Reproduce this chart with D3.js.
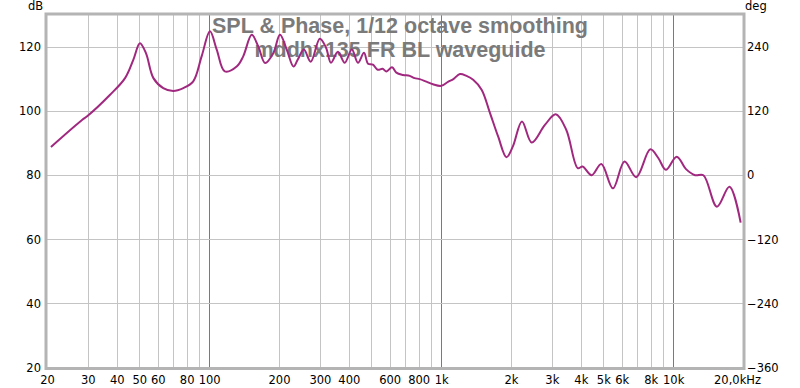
<!DOCTYPE html>
<html>
<head>
<meta charset="utf-8">
<script src="https://cdn.jsdelivr.net/npm/d3@7"></script>
<style>
  body { margin: 0; background: #fff; }
  svg { display: block; }
</style>
</head>
<body>
<svg id="main-chart"></svg>
<script>
// measured response, Hz / dB
const freqs = [20.8, 28.4, 29.7, 37.4, 43.4, 47.1, 50.3, 53.4, 57.5, 63.4, 70, 77.4, 85.4, 92.8,
  100.8, 107.8, 116.8, 131.4, 140.2, 152.6, 162.8, 174.2, 189, 202,
  216, 231, 241, 256, 274, 300, 319, 335, 359, 384, 412, 438, 465, 484,
  508, 533, 559, 581, 614, 641, 685, 732, 769, 808, 864, 922, 1000,
  1074, 1129, 1205, 1286, 1374, 1494, 1624, 1760, 1912, 2038, 2230, 2457,
  2800, 3120, 3460, 3880, 4070, 4450, 4900, 5500, 6170, 6930, 7970, 8640,
  9300, 10360, 11360, 12440, 13500, 15440, 17480, 19540];
const spl = [88.8, 97.3, 98.3, 105.1, 110.3, 116, 121.2, 118.1, 110.3, 107.2, 106.3, 107.2, 109.3, 117.1,
  124.9, 119.2, 112.4, 113.9, 117.1, 123.8, 120.2, 115, 118.1, 123.8,
  119.2, 113.9, 116.1, 119.2, 115.4, 122.6, 119.8, 115.1, 118.5, 115.1, 119.2, 115.1, 118.2, 114.8,
  114.5, 112.9, 113.2, 112.4, 113.7, 112, 111.3, 111, 110.3, 110, 109.2, 108.4, 107.9,
  109.2, 110, 111.6, 111, 109.8, 106.7, 99.4, 92.1, 85.6, 89, 96.8, 90.2,
  95.7, 99, 94.2, 82.2, 82.7, 80, 83.5, 75.9, 84.3, 79.4, 88.1, 85.3,
  81.7, 85.8, 81.9, 80, 80, 70.2, 76.4, 65.2];

const xTicks = [20, 30, 40, 50, 60, 80, 100, 200, 300, 400, 600, 800, 1000,
  2000, 3000, 4000, 5000, 6000, 8000, 10000, 20000];
const xTickLabels = ["20", "30", "40", "50", "60", "80", "100", "200", "300", "400", "600", "800", "1k",
  "2k", "3k", "4k", "5k", "6k", "8k", "10k", "20,0kHz"];
const gridFreqs = [30, 40, 50, 60, 70, 80, 90, 100, 200, 300, 400, 500, 600, 700, 800, 900, 1000,
  2000, 3000, 4000, 5000, 6000, 7000, 8000, 9000, 10000];
const majorFreqs = [100, 1000, 10000];
const dbTicks = [20, 40, 60, 80, 100, 120];
const degTicks = [-360, -240, -120, 0, 120, 240];

function plotchart() {
  const width = 800, height = 388;
  const left = 47, right = 743, plotTop = 15, plotBottom = 367.5;

  const svg = d3.select("#main-chart")
      .attr("width", width)
      .attr("height", height)
      .attr("font-family", "DejaVu Sans, sans-serif");

  const x = d3.scaleLog().domain([20, 20000]).range([left, right]);
  const y = d3.scaleLinear().domain([20, 130]).range([plotBottom, plotTop]);
  const yDeg = d3.scaleLinear().domain([-360, 300]).range([plotBottom, plotTop]);

  // grid
  svg.append("g")
    .selectAll("line")
    .data(gridFreqs)
    .join("line")
      .attr("x1", d => Math.round(x(d)) + 0.5)
      .attr("x2", d => Math.round(x(d)) + 0.5)
      .attr("y1", plotTop)
      .attr("y2", plotBottom)
      .attr("stroke", d => majorFreqs.includes(d) ? "#7a7a7a" : "#c4c4c4");

  svg.append("g")
    .selectAll("line")
    .data(dbTicks.filter(d => d > 20))
    .join("line")
      .attr("x1", left)
      .attr("x2", right)
      .attr("y1", d => Math.round(y(d)) + 0.5)
      .attr("y2", d => Math.round(y(d)) + 0.5)
      .attr("stroke", "#c4c4c4");

  // frame
  svg.append("rect")
      .attr("x", left - 1)
      .attr("y", plotTop - 1)
      .attr("width", right - left + 2)
      .attr("height", plotBottom - plotTop + 2)
      .attr("fill", "none")
      .attr("stroke", "#b4b4b4")
      .attr("stroke-width", 3);

  // title
  const title = svg.append("g")
      .attr("font-family", "Liberation Sans, Arial, sans-serif")
      .attr("font-weight", "bold")
      .attr("font-size", 21.5)
      .attr("fill", "#7a7a7a")
      .attr("text-anchor", "middle");
  title.append("text").attr("x", 400).attr("y", 33).text("SPL & Phase, 1/12 octave smoothing");
  title.append("text").attr("x", 400).attr("y", 57).text("mddhx135 FR BL waveguide");

  // curve
  const line = d3.line()
      .x((d, i) => x(freqs[i]))
      .y(d => y(d))
      .curve(d3.curveCatmullRom.alpha(0.5));

  svg.append("path")
      .datum(spl)
      .attr("fill", "none")
      .attr("stroke", "#a0287f")
      .attr("stroke-width", 2)
      .attr("stroke-linejoin", "round")
      .attr("d", line);

  // axes
  const gx = svg.append("g")
      .attr("transform", `translate(0,${plotBottom})`)
      .call(d3.axisBottom(x)
        .tickValues(xTicks)
        .tickFormat((d, i) => xTickLabels[i])
        .tickSize(0)
        .tickPadding(0));
  gx.select(".domain").remove();
  gx.selectAll("text")
      .attr("y", 13)
      .attr("dy", "0.32em")
      .attr("font-size", 11.5)
      .attr("fill", "#000")
      .attr("font-family", "DejaVu Sans, sans-serif");
  gx.selectAll("text").filter(d => d === 20000).attr("dx", -6);

  const gl = svg.append("g")
      .attr("transform", `translate(${left},0)`)
      .call(d3.axisLeft(y).tickValues(dbTicks).tickSize(0).tickPadding(6));
  gl.select(".domain").remove();
  gl.selectAll("text")
      .attr("font-size", 11.5)
      .attr("fill", "#000")
      .attr("font-family", "DejaVu Sans, sans-serif");

  const gr = svg.append("g")
      .attr("transform", `translate(${right},0)`)
      .call(d3.axisRight(yDeg).tickValues(degTicks).tickSize(0).tickPadding(4));
  gr.select(".domain").remove();
  gr.selectAll("text")
      .attr("font-size", 11.5)
      .attr("fill", "#000")
      .attr("font-family", "DejaVu Sans, sans-serif");

  svg.append("text").attr("x", 28).attr("y", 10).attr("font-size", 11.5).text("dB");
  svg.append("text").attr("x", 745).attr("y", 10).attr("font-size", 11.5).text("deg");
}

plotchart();
</script>
</body>
</html>
